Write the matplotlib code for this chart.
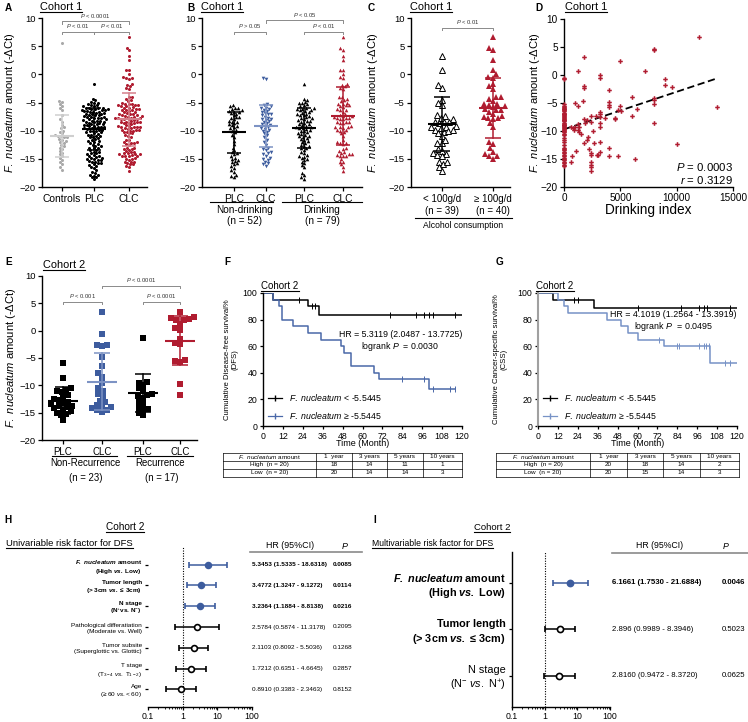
import numpy as np
import matplotlib
matplotlib.use("Agg")
import matplotlib.pyplot as plt
from matplotlib.lines import Line2D
from matplotlib.transforms import blended_transform_factory

plt.rcParams.update({
    "font.family": "Liberation Sans",
    "mathtext.fontset": "custom",
    "mathtext.rm": "Liberation Sans",
    "mathtext.it": "Liberation Sans:italic",
    "mathtext.bf": "Liberation Sans:bold",
    "mathtext.bfit": "Liberation Sans:bold:italic",
    "axes.linewidth": 1.0,
    "xtick.major.width": 0.9,
    "ytick.major.width": 0.9,
    "xtick.major.size": 3,
    "ytick.major.size": 3,
})

RED = "#b01c30"
BLUE = "#3d5c9e"
GRAY = "#a9a9a9"

# ---------------- data ----------------
# cohort 1, -dCt values
controls = [5.5, -4.7, -4.9, -5.2, -5.6, -6.0, -6.4, -7.3, -8.0, -8.4, -9.0, -9.4, -9.6,
            -10.0, -10.2, -10.5, -10.8, -10.9, -11.1, -11.2, -11.4, -11.6, -11.8, -12.0,
            -12.2, -12.5, -12.8, -13.0, -13.3, -13.6, -13.9, -14.2, -14.5, -14.8, -15.2,
            -15.6, -16.0, -16.5, -16.9, -11.0]
plc_nondrink = [-5.5, -5.7, -5.9, -6.0, -6.2, -6.4, -6.5, -6.7, -6.9, -7.0, -7.3, -7.5,
                -7.8, -8.0, -8.2, -8.5, -8.7, -8.9, -9.0, -9.2, -9.4, -9.6, -9.8, -10.0,
                -10.3, -10.7, -11.2, -11.8, -12.4, -13.0, -13.5, -13.8, -14.0, -14.2,
                -14.5, -14.8, -15.0, -15.2, -15.4, -15.6, -15.8, -16.0, -16.3, -16.6,
                -17.0, -17.3, -17.8, -18.0, -18.3, -6.6, -7.6, -8.4]
clc_nondrink = [-0.6, -0.8, -5.2, -5.5, -5.7, -5.9, -6.1, -6.3, -6.5, -6.7, -6.9, -7.1,
                -7.3, -7.5, -7.7, -7.9, -8.1, -8.3, -8.5, -8.7, -8.9, -9.1, -9.3, -9.5,
                -9.7, -9.9, -10.2, -10.5, -10.8, -11.2, -11.6, -12.0, -12.5, -13.0, -13.4,
                -13.8, -14.2, -14.5, -14.8, -15.0, -15.2, -15.5, -15.8, -16.0, -16.3,
                -6.0, -7.0, -8.0, -9.0, -10.0, -13.2, -14.0]
plc_drink = [-1.8, -4.3, -4.6, -4.9, -5.1, -5.3, -5.5, -5.7, -5.9, -6.1, -6.2, -6.4, -6.6,
             -6.8, -7.0, -7.2, -7.4, -7.6, -7.8, -8.0, -8.2, -8.4, -8.6, -8.8, -9.0, -9.1,
             -9.3, -9.5, -9.7, -9.9, -10.1, -10.3, -10.5, -10.7, -10.9, -11.1, -11.3,
             -11.6, -11.9, -12.2, -12.5, -12.8, -13.1, -13.4, -13.7, -14.0, -14.3, -14.6,
             -14.9, -15.2, -15.5, -15.8, -16.1, -16.5, -17.5, -17.9, -18.3, -18.6, -6.0,
             -6.5, -7.1, -7.7, -8.3, -8.9, -9.4, -10.0, -10.6, -11.5, -12.0, -13.0, -14.5,
             -15.0, -5.0, -6.3, -7.3, -8.1, -9.6, -11.0, -12.7]
# CLC of drinkers, < 100 g/d and >= 100 g/d, with drinking index
clc_low = [3.3, 0.8, -1.9, -2.4, -4.6, -5.0, -5.5, -7.3, -7.4, -7.8, -8.0, -8.5, -8.7,
           -9.2, -9.8, -10.2, -9.5, -9.8, -9.3, -9.3, -8.4, -14.0, -14.3, -15.5, -16.0,
           -16.5, -17.2, -12.2, -12.2, -11.0, -13.2, -11.6, -15.5, -8.5, -14.2, -10.0,
           -10.5, -13.6, -14.5]
idx_low = [1800, 1200, 1800, 1800, 1700, 1000, 1200, 2400, 2800, 1800, 2000, 1900, 1200,
           1300, 1200, 1300, 800, 900, 1000, 600, 2400, 2400, 2400, 2400, 2400, 2400, 2400,
           2700, 1800, 2100, 2200, 2000, 600, 3200, 2900, 2600, 1500, 1100, 700]
clc_high = [6.7, 4.7, 4.4, 2.5, 0.7, 0.0, -0.5, -0.7, -1.7, -2.1, -2.6, -4.0, -4.1, -4.4,
            -5.2, -8.6, -4.8, -5.3, -5.8, -5.5, -6.3, -6.4, -6.1, -6.6, -7.0, -7.7, -7.7,
            -7.9, -7.4, -5.7, -12.3, -15.0, -14.5, -13.0, -14.5, -12.0, -13.7, -14.2,
            -7.5, -9.3]
idx_high = [12000, 8000, 8000, 5000, 7200, 3200, 3200, 9000, 9000, 9600, 4000, 6000, 8000,
            8000, 8000, 8000, 4000, 4000, 4000, 5000, 4800, 5100, 6500, 3200, 3200, 3600,
            4500, 4500, 6000, 13600, 10000, 6300, 4800, 4000, 4000, 3200, 3200, 3000,
            3200, 3200]

# mean and SD bars (centre, upper, lower)
a_mid, a_top, a_bot = [-10.9, -9.7, -7.9], [-7.2, -5.9, -3.4], [-14.6, -13.5, -12.8]
b_mid, b_top, b_bot = [-10.3, -9.2, -9.5, -7.4], [-6.7, -5.5, -5.9, -2.2], [-13.9, -12.9, -13.1, -12.5]
c_mid, c_top, c_bot = [-8.8, -6.0], [-4.1, -0.7], [-13.6, -11.3]
e_mid, e_top, e_bot = [-12.8, -9.3, -11.4, -1.8], [-10.3, -4.0, -8.0, 2.6], [-15.3, -14.5, -14.8, -6.3]

fit_intercept, fit_slope = -9.7, 0.00067

# cohort 2
plc_nonrec = [-6.0, -8.7, -10.5, -10.8, -11.0, -11.3, -11.8, -12.2, -12.5, -12.7, -13.0,
              -13.2, -13.5, -13.7, -13.8, -14.0, -14.2, -14.5, -14.7, -15.0, -15.2, -15.5, -16.4]
clc_nonrec = [3.5, -0.7, -2.7, -2.8, -2.6, -4.8, -6.5, -7.8, -8.5, -9.5, -10.5, -11.0,
              -11.5, -12.0, -12.8, -13.6, -13.8, -13.9, -14.2, -14.5, -14.6, -14.8, -13.0]
plc_rec = [-1.4, -9.4, -9.5, -10.0, -10.5, -11.0, -11.5, -12.0, -12.3, -13.0, -13.5,
           -14.0, -14.3, -14.5, -15.0, -15.5, -11.8]
clc_rec = [3.4, 2.5, 2.3, 2.2, 2.0, 1.9, 1.3, 0.5, 0.1, -1.5, -2.3, -2.5, -5.3, -5.5, -5.7,
           -9.7, -11.8]

# Kaplan-Meier: step times / survival %, censor times
dfs_low_t, dfs_low_s = [0, 6, 27, 34], [100, 95, 90, 83.5]
dfs_low_cens = [22, 29.5, 31.5, 76.5, 92, 97, 100, 102.5, 116]
dfs_high_t = [0, 6, 9.5, 11.5, 18, 27, 35, 47, 49, 53, 67, 70, 100]
dfs_high_s = [100, 95, 90, 80, 75, 70, 65, 60, 55, 45, 40, 35, 28]
dfs_high_cens = [84, 97, 102.5, 112.5, 116]
css_low_t, css_low_s = [0, 9, 34], [100, 95, 88.5]
css_low_cens = [22, 24, 60, 86, 97, 100, 102, 116]
css_high_t = [0, 12, 15.5, 18, 41.5, 50, 54, 60, 76, 104]
css_high_s = [100, 95, 90, 85, 80, 75, 70, 65, 60, 47.5]
css_high_cens = [73, 84, 85, 97, 100, 101.5, 103, 113, 116]

tbl_cols = [r"$\mathit{F.\ nucleatum}$ amount", "1  year", "3 years", "5 years", "10 years"]
tbl_rows = ["High  (n = 20)", "Low  (n = 20)"]
dfs_counts = [[18, 14, 11, 1], [20, 14, 14, 3]]
css_counts = [[20, 18, 14, 2], [20, 15, 14, 3]]

# Cox regression
h_labels = [
    r"$\mathbfit{F.\ nucleatum}$ amount" "\n" r"(High $\mathbfit{vs.}$ Low)",
    "Tumor length\n(> 3cm " r"$\mathbfit{vs.}$" " ≤ 3cm)",
    "N stage\n(N$^{+}$vs. N$^{-}$)",
    "Pathological differatiation\n(Moderate vs. Well)",
    "Tumor subsite\n(Superglottic vs. Glottic)",
    "T stage\n(T$_{3-4}$ $\\mathit{vs.}$ T$_{1-2}$)",
    "Age\n(≥ 60 $\\mathit{vs.}$< 60)",
]
h_hr = ["5.3453", "3.4772", "3.2364", "2.5784", "2.1103", "1.7212", "0.8910"]
h_lo = ["1.5335", "1.3247", "1.1884", "0.5874", "0.8092", "0.6351", "0.3383"]
h_hi = ["18.6318", "9.1272", "8.8138", "11.3178", "5.5036", "4.6645", "2.3463"]
h_p = ["0.0085", "0.0114", "0.0216", "0.2095", "0.1268", "0.2857", "0.8152"]
h_sig = [True, True, True, False, False, False, False]

i_labels = [
    r"$\mathbfit{F.\ nucleatum}$ amount" "\n" r"(High $\mathbfit{vs.}$ Low)",
    "Tumor length\n(> 3cm " r"$\mathbfit{vs.}$" " ≤ 3cm)",
    "N stage\n(N$^{-}$ $\\mathit{vs.}$ N$^{+}$)",
]
i_hr = ["6.1661", "2.896", "2.8160"]
i_lo = ["1.7530", "0.9989", "0.9472"]
i_hi = ["21.6884", "8.3946", "8.3720"]
i_p = ["0.0046", "0.5023", "0.0625"]
i_sig = [True, False, False]
i_bold = [True, True, False]

# ---------------- helpers ----------------
W, H = 748, 722
fig = plt.figure(figsize=(W / 100, H / 100), dpi=100)
underlined = []


def px_axes(l, t, r, b):
    return fig.add_axes([l / W, 1 - b / H, (r - l) / W, (b - t) / H])


def ftext(x, y, s, ul=False, **kw):
    kw.setdefault("ha", "center")
    kw.setdefault("va", "center")
    t = fig.text(x / W, 1 - y / H, s, **kw)
    if ul:
        underlined.append(t)
    return t


def fline(x1, x2, y, color="k", lw=0.8):
    fig.add_artist(Line2D([x1 / W, x2 / W], [1 - y / H] * 2, transform=fig.transFigure,
                          color=color, lw=lw))


def swarm_x(vals, cx, ppy, d):
    ys = np.asarray(vals, float) * ppy
    out = np.empty(len(ys))
    px, py = [], []
    for i in np.argsort(ys):
        y = ys[i]
        blocked = []
        for xo, yo in zip(px, py):
            dy = abs(y - yo)
            if dy < d:
                w = np.sqrt(d * d - dy * dy)
                blocked.append((xo - w, xo + w))
        cands = sorted([0.0] + [b for iv in blocked for b in iv], key=abs)
        for c in cands:
            if all(not (lo + 1e-6 < c < hi - 1e-6) for lo, hi in blocked):
                break
        px.append(c)
        py.append(y)
        out[i] = cx + c
    return out


def dot_axes(ax, width, xpos, xlabels, fs=7.4):
    ax.set_xlim(0, width)
    ax.set_ylim(-20, 10)
    ax.set_yticks(range(-20, 11, 5))
    ax.set_xticks(xpos)
    ax.set_xticklabels(xlabels, fontsize=fs)
    ax.tick_params(axis="y", labelsize=6.8, pad=1.5)
    ax.tick_params(axis="x", pad=2)
    for s in ("top", "right"):
        ax.spines[s].set_visible(False)


def draw_bars(ax, xpos, mid, top, bot, colors, hw=12, cw=7):
    for x, m, t, b, c in zip(xpos, mid, top, bot, colors):
        ax.plot([x - hw, x + hw], [m, m], color=c, lw=1.5, zorder=5, solid_capstyle="butt")
        ax.plot([x, x], [b, t], color=c, lw=1.1, zorder=5)
        for v in (t, b):
            ax.plot([x - cw, x + cw], [v, v], color=c, lw=1.1, zorder=5, solid_capstyle="butt")


def bracket(ax, x1, x2, y, text, drop=0.45):
    ax.plot([x1, x1, x2, x2], [y - drop, y, y, y - drop], color="#8a8a8a", lw=0.7, clip_on=False)
    ax.text((x1 + x2) / 2, y + 0.25, text, ha="center", va="bottom", fontsize=4.2,
            color="#333", clip_on=False)


def ylab(ax, xfrac, fs=8.0):
    ax.set_ylabel(r"$\mathit{F.\ nucleatum}$ amount (-ΔCt)", fontsize=fs)
    ax.yaxis.set_label_coords(xfrac, 0.5)


P = r"$\mathit{P}$"

# ---------------- A ----------------
axA = px_axes(42, 18, 147, 187)
xa = [20, 52, 87]
dot_axes(axA, 105, xa, ["Controls", "PLC", "CLC"])
ppy = 169 / 30
plc_all = plc_nondrink + plc_drink
clc_all = clc_nondrink + clc_low + clc_high
for vals, x, c in zip([controls, plc_all, clc_all], xa, [GRAY, "k", RED]):
    axA.plot(swarm_x(vals, x, ppy, 3.0), vals, "o", ms=2.2, mew=0, color=c, zorder=3, clip_on=False)
draw_bars(axA, xa, a_mid, a_top, a_bot, ["#cfcfcf", "k", "#d4808c"])
bracket(axA, xa[0], xa[2], 9.4, P + " < 0.0001")
bracket(axA, xa[0], xa[1], 7.6, P + " < 0.01")
bracket(axA, xa[1], xa[2], 7.6, P + " < 0.01")
ylab(axA, -0.24)

# ---------------- B ----------------
axB = px_axes(202, 18, 362, 187)
xb = [32, 64, 102, 141]
dot_axes(axB, 160, xb, ["PLC", "CLC", "PLC", "CLC"])
b_groups = [plc_nondrink, clc_nondrink, plc_drink, clc_low + clc_high]
b_marks = ["^", "v", "^", "^"]
b_cols = ["k", BLUE, "k", RED]
for vals, x, m, c in zip(b_groups, xb, b_marks, b_cols):
    axB.plot(swarm_x(vals, x, ppy, 3.2), vals, m, ms=2.6, mew=0, color=c, zorder=3, clip_on=False)
draw_bars(axB, xb, b_mid, b_top, b_bot, ["k", "#7d93c4", "k", RED])
bracket(axB, xb[0], xb[1], 7.6, P + " > 0.05")
bracket(axB, xb[1], xb[3], 9.6, P + " < 0.05")
bracket(axB, xb[2], xb[3], 7.6, P + " < 0.01")
fline(210, 273, 202)
fline(282, 362, 202)
ftext(245, 210, "Non-drinking", fontsize=7.2)
ftext(245, 221, "(n = 52)", fontsize=7.2)
ftext(322, 210, "Drinking", fontsize=7.2)
ftext(322, 221, "(n = 79)", fontsize=7.2)

# ---------------- C ----------------
axC = px_axes(411, 18, 510, 187)
xc = [31, 82]
dot_axes(axC, 99, xc, ["< 100g/d\n(n = 39)", "≥ 100g/d\n(n = 40)"], fs=7.0)
axC.plot(swarm_x(clc_low, xc[0], ppy, 4.8), clc_low, "^", ms=4.4, mfc="white", mec="k",
         mew=0.7, zorder=3, clip_on=False)
axC.plot(swarm_x(clc_high, xc[1], ppy, 4.8), clc_high, "^", ms=4.4, mew=0, color=RED,
         zorder=3, clip_on=False)
draw_bars(axC, xc, c_mid, c_top, c_bot, ["k", RED], hw=14, cw=8)
bracket(axC, xc[0], xc[1], 8.3, P + " < 0.01")
fline(415, 512, 218)
ftext(463, 225, "Alcohol consumption", fontsize=6.2)
ylab(axC, -0.31)

# ---------------- D ----------------
axD = px_axes(564, 19, 733, 187)
d_x = [0] * len(clc_nondrink) + idx_low + idx_high
d_y = clc_nondrink + clc_low + clc_high
axD.plot(d_x, d_y, "P", ms=3.3, mew=0, color=RED, clip_on=False, zorder=3)
xfit = np.array([0, max(d_x)])
axD.plot(xfit, fit_intercept + fit_slope * xfit, "--", color="k", lw=1.3, dashes=(4, 2))
axD.set_xlim(0, 15000)
axD.set_ylim(-20, 10)
axD.set_xticks([0, 5000, 10000, 15000])
axD.set_yticks(range(-20, 11, 5))
axD.tick_params(labelsize=7.2, pad=1.5)
for s in ("top", "right"):
    axD.spines[s].set_visible(False)
axD.set_xlabel("Drinking index", fontsize=9.8, labelpad=0)
axD.text(1.0, 0.12, P + " = 0.0003", transform=axD.transAxes, ha="right", va="center", fontsize=8.2)
axD.text(1.0, 0.04, r"$\mathit{r}$ = 0.3129", transform=axD.transAxes, ha="right", va="center", fontsize=8.2)
ylab(axD, -0.13)

# ---------------- E ----------------
axE = px_axes(42, 276, 197, 440)
xe = [21, 60, 101, 138]
dot_axes(axE, 155, xe, ["PLC", "CLC", "PLC", "CLC"], fs=7.0)
ppy_e = 164 / 30
e_groups = [plc_nonrec, clc_nonrec, plc_rec, clc_rec]
e_cols = ["k", BLUE, "k", RED]
for vals, x, c in zip(e_groups, xe, e_cols):
    axE.plot(swarm_x(vals, x, ppy_e, 5.2), vals, "s", ms=4.0, mew=0, color=c, zorder=3, clip_on=False)
draw_bars(axE, xe, e_mid, e_top, e_bot, ["k", "#7d93c4", "k", RED], hw=15, cw=8)
bracket(axE, xe[0], xe[1], 5.3, P + " < 0.001")
bracket(axE, xe[1], xe[3], 8.2, P + " < 0.0001")
bracket(axE, xe[2], xe[3], 5.3, P + " < 0.0001")
fline(52, 117, 456)
fline(127, 193, 456)
ftext(85, 463, "Non-Recurrence", fontsize=6.9)
ftext(160, 463, "Recurrence", fontsize=6.9)
ftext(86, 478, "(n = 23)", fontsize=6.9)
ftext(162, 478, "(n = 17)", fontsize=6.9)
ylab(axE, -0.155)


# ---------------- F / G Kaplan-Meier ----------------
def km(ax, t, s, cens, end, color):
    ax.step(list(t) + [end], list(s) + [s[-1]], where="post", color=color, lw=1.1)
    cy = [s[np.searchsorted(t, c, side="right") - 1] for c in cens]
    ax.plot(cens, cy, ls="none", marker="|", ms=4, mew=0.7, color=color)


def km_axes(ax, ylabel, xf, spine_col):
    ax.set_xlim(0, 120)
    ax.set_ylim(0, 100)
    ax.set_xticks(range(0, 121, 12))
    ax.set_yticks(range(0, 101, 20))
    ax.tick_params(labelsize=6.3, pad=1.5, length=2.5)
    for s in ("top", "right"):
        ax.spines[s].set_visible(False)
    ax.spines["left"].set_color(spine_col)
    ax.set_xlabel("Time (Month)", fontsize=6.5, labelpad=-1)
    ax.set_ylabel(ylabel, fontsize=5.6, linespacing=1.0)
    ax.yaxis.set_label_coords(xf, 0.5)


def km_table(l, t, r, b, col_edges, counts):
    ax = px_axes(l, t, r, b)
    ax.set_xlim(l, r)
    ax.set_ylim(b, t)
    ax.axis("off")
    row_edges = np.linspace(t, b, 4)
    for y in row_edges:
        ax.plot([l, r], [y, y], color="k", lw=0.5, clip_on=False)
    for x in [l] + col_edges + [r]:
        ax.plot([x, x], [t, b], color="k", lw=0.5, clip_on=False)
    xs = [l] + col_edges + [r]
    centres = [(xs[i] + xs[i + 1]) / 2 for i in range(len(xs) - 1)]
    rc = [(row_edges[i] + row_edges[i + 1]) / 2 for i in range(3)]
    for cx, txt in zip(centres, tbl_cols):
        ax.text(cx, rc[0], txt, ha="center", va="center", fontsize=4.6)
    for j, (lab, row) in enumerate(zip(tbl_rows, counts)):
        ax.text(centres[0], rc[j + 1], lab, ha="center", va="center", fontsize=4.6)
        for cx, v in zip(centres[1:], row):
            ax.text(cx, rc[j + 1], str(v), ha="center", va="center", fontsize=4.6)


leg_low = r"$\mathit{F.\ nucleatum}$ < -5.5445"
leg_high = r"$\mathit{F.\ nucleatum}$ ≥ -5.5445"

axF = px_axes(263, 293, 462, 426)
km(axF, dfs_low_t, dfs_low_s, dfs_low_cens, 120, "k")
km(axF, dfs_high_t, dfs_high_s, dfs_high_cens, 116, "#4a68a8")
km_axes(axF, "Cumulative Disease-free survival%\n(DFS)", -0.125, "k")
axF.text(1.0, 0.69, "HR = 5.3119 (2.0487 - 13.7725)", transform=axF.transAxes, ha="right",
         va="center", fontsize=6.3)
axF.text(0.69, 0.60, "logrank " + P + "  = 0.0030", transform=axF.transAxes, ha="center",
         va="center", fontsize=6.3)
axF.legend([Line2D([], [], color="k", marker="|", ms=5, lw=0.9),
            Line2D([], [], color="#4a68a8", marker="|", ms=5, lw=0.9)],
           [leg_low, leg_high], loc="lower left", bbox_to_anchor=(0.0, 0.0), frameon=False,
           fontsize=6.3, handlelength=1.6, labelspacing=0.8, borderaxespad=0.2)
km_table(223, 453, 462, 477, [316, 352, 387, 423], dfs_counts)

axG = px_axes(538, 293, 737, 426)
km(axG, css_low_t, css_low_s, css_low_cens, 120, "k")
km(axG, css_high_t, css_high_s, css_high_cens, 120, "#7792c6")
km_axes(axG, "Cumulative Cancer-specific survival%\n(CSS)", -0.155, "#a0a0a0")
axG.spines["left"].set_linewidth(1.5)
axG.text(1.0, 0.84, "HR = 4.1019 (1.2564 - 13.3919)", transform=axG.transAxes, ha="right",
         va="center", fontsize=6.4)
axG.text(0.68, 0.745, "logrank " + P + "  = 0.0495", transform=axG.transAxes, ha="center",
         va="center", fontsize=6.4)
axG.legend([Line2D([], [], color="k", marker="|", ms=5, lw=0.9),
            Line2D([], [], color="#7792c6", marker="|", ms=5, lw=0.9)],
           [leg_low, leg_high], loc="lower left", bbox_to_anchor=(0.0, 0.0), frameon=False,
           fontsize=6.3, handlelength=1.6, labelspacing=0.8, borderaxespad=0.2)
km_table(496, 453, 739, 477, [590, 627, 663, 700], css_counts)


# ---------------- H / I forest plots ----------------
def forest(ax, labels, hr, lo, hi, pv, sig, bold, lab_fs, val_fs, ms, val_x, p_x, ylim):
    n = len(hr)
    ys = np.arange(n, 0, -1)
    h = np.array([float(v) for v in hr])
    lo_ = np.array([float(v) for v in lo])
    hi_ = np.array([float(v) for v in hi])
    for y, hv, l, u, s in zip(ys, h, lo_, hi_, sig):
        c = BLUE if s else "k"
        ax.errorbar(hv, y, xerr=[[hv - l], [u - hv]], fmt="o", color=c, ecolor=c,
                    mfc=c if s else "white", mec=c, ms=ms, mew=1.2, capsize=2.5,
                    elinewidth=1.1, capthick=1.1, zorder=3)
    ax.set_xscale("log")
    ax.set_xlim(0.1, 100)
    ax.set_ylim(*ylim)
    ax.axvline(1, ls=(0, (1, 1.3)), color="k", lw=0.8)
    ax.set_xticks([0.1, 1, 10, 100])
    ax.set_xticklabels(["0.1", "1", "10", "100"])
    ax.tick_params(axis="x", labelsize=6.3, pad=1, length=2.5)
    ax.tick_params(axis="x", which="minor", length=1.6)
    ax.set_yticks(ys)
    ax.set_yticklabels(labels, fontsize=lab_fs)
    ax.tick_params(axis="y", length=2.5, pad=2)
    for t, b in zip(ax.get_yticklabels(), bold):
        t.set_fontweight("bold" if b else "normal")
        t.set_linespacing(1.25)
    for s in ("top", "right"):
        ax.spines[s].set_visible(False)
    tr = blended_transform_factory(fig.transFigure, ax.transData)
    for y, a, l, u, p, s in zip(ys, hr, lo, hi, pv, sig):
        w = "bold" if s else "normal"
        ax.text(val_x / W, y, f"{a} ({l} - {u})", transform=tr, ha="left", va="center",
                fontsize=val_fs, fontweight=w)
        ax.text(p_x / W, y, p, transform=tr, ha="left", va="center", fontsize=val_fs, fontweight=w)


axH = px_axes(148, 547, 252, 707)
forest(axH, h_labels, h_hr, h_lo, h_hi, h_p, h_sig, h_sig, 4.6, 4.6, 4.2, 252, 333,
       (0.15, 7.85))
axH.spines["left"].set_visible(False)
ftext(125, 527, "Cohort 2", ul=True, fontsize=7.2)
ftext(6, 543, "Univariable risk factor for DFS", ul=True, ha="left", fontsize=6.8)
ftext(290, 546, "HR (95%CI)", fontsize=6.4)
ftext(345, 546, P, fontsize=6.4)
fline(250, 362, 552, color="#8a8a8a", lw=1.2)

axI = px_axes(512, 552, 610, 707)
forest(axI, i_labels, i_hr, i_lo, i_hi, i_p, i_sig, i_bold, 7.8, 5.6, 4.4, 612, 722,
       (0.33, 3.66))
ftext(492, 527, "Cohort 2", ul=True, fontsize=6.8)
ftext(372, 543, "Multivariable risk factor for DFS", ul=True, ha="left", fontsize=6.2)
ftext(660, 546, "HR (95%CI)", fontsize=6.3)
ftext(726, 546, P, fontsize=6.3)
fline(612, 748, 553, color="#8a8a8a", lw=1.2)

# ---------------- titles / letters ----------------
for x, y in [(61, 7), (222, 7), (431, 7), (586, 7)]:
    ftext(x, y, "Cohort 1", ul=True, fontsize=7.9)
ftext(64, 265, "Cohort 2", ul=True, fontsize=7.9)
ftext(280, 286, "Cohort 2", ul=True, fontsize=7.0)
ftext(555, 286, "Cohort 2", ul=True, fontsize=7.0)
for lab, x, y in [("A", 5, 8), ("B", 187, 8), ("C", 368, 8), ("D", 535, 8), ("E", 5, 262),
                  ("F", 224, 262), ("G", 496, 262), ("H", 4, 520), ("I", 373, 520)]:
    ftext(x, y, lab, fontsize=7.2, fontweight="bold", ha="left")

fig.canvas.draw()
rend = fig.canvas.get_renderer()
for t in underlined:
    bb = t.get_window_extent(rend)
    y = (bb.y0 - 0.3) / fig.bbox.height
    fig.add_artist(Line2D([bb.x0 / fig.bbox.width, bb.x1 / fig.bbox.width], [y, y],
                          transform=fig.transFigure, color="k", lw=0.8))

fig.savefig("out.png", dpi=100)
